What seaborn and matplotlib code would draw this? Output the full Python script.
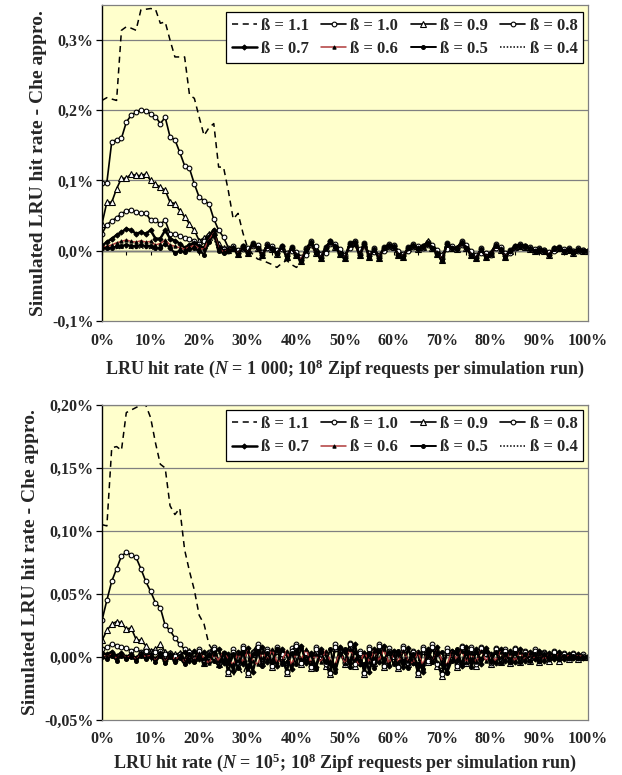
import numpy as np
import pandas as pd
import seaborn as sns
import matplotlib
matplotlib.use("Agg")
import matplotlib.pyplot as plt
from matplotlib.ticker import FuncFormatter

# ---------------- data ----------------
# x: LRU hit rate in %
hit_rate = list(range(0, 101))
betas = ["1.1", "1.0", "0.9", "0.8", "0.7", "0.6", "0.5", "0.4"]

# Panel 1 (N = 1 000): simulated - Che approx., in thousandths of a percent
n1_b11 = [214, 218, 216, 214, 314, 319, 317, 314, 343, 344,
          345, 344, 324, 326, 300, 276, 276, 276, 222, 217,
          190, 164, 175, 181, 119, 119, 85, 45, 53, 25,
          3, -5, -12, -14, -17, -20, -24, -18, -14, -20,
          -24, -18, -6, 8, -4, -12, 2, 11, 4, -6,
          -11, 8, 13, -4, 9, -9, 3, -11, 5, 7,
          5, -7, -9, 3, 9, 2, 5, 10, 3, -5,
          -13, 9, 5, 2, 11, 3, -7, -11, 3, -7,
          -3, 7, 3, -9, 1, 5, 7, 5, 2, 1,
          1, 1, -5, 2, 3, 1, 1, -3, 1, 0, 0]
n1_b10 = [97, 97, 155, 158, 160, 183, 193, 197, 201, 199,
          195, 191, 181, 190, 162, 158, 140, 121, 117, 95,
          76, 71, 67, 45, 29, 19, 4, 6, -3, 7,
          -2, 11, 5, -5, 9, 4, -3, 7, -7, 5,
          -5, -13, 3, 13, -1, -9, 5, 14, 7, -3,
          -9, 11, 13, -5, 11, -7, 3, -9, 5, 9,
          7, -5, -7, 5, 9, 4, 7, 12, 5, -3,
          -11, 11, 5, 4, 13, 5, -5, -9, 3, -7,
          -3, 9, 3, -7, 1, 7, 9, 7, 4, 1,
          3, 1, -5, 4, 5, 1, 3, -1, 3, 1, 0]
n1_b09 = [38, 69, 69, 88, 103, 103, 109, 107, 107, 109,
          100, 95, 90, 86, 69, 67, 57, 48, 38, 29,
          14, 18, 24, 26, 10, 3, 1, 3, -5, 5,
          -4, 9, 3, -7, 7, 2, -5, 5, -9, 3,
          -7, -15, 1, 11, -3, -11, 3, 12, 5, -5,
          -11, 9, 11, -7, 9, -9, 1, -11, 3, 7,
          5, -7, -9, 3, 7, 2, 5, 14, 3, -5,
          -13, 9, 3, 2, 11, 3, -7, -11, 1, -9,
          -5, 7, 1, -9, -1, 5, 7, 5, 2, -1,
          1, -1, -7, 2, 3, -1, 1, -3, 1, -1, 0]
n1_b08 = [24, 37, 42, 47, 52, 57, 58, 55, 53, 54,
          43, 43, 38, 43, 24, 23, 21, 18, 16, 14,
          10, 14, 22, 26, 4, 2, -1, 4, 1, 2,
          4, 6, 8, -2, 3, 7, 1, 2, -4, 0,
          -2, -9, -6, 8, 6, -5, -3, 9, 10, 2,
          -6, 4, 9, 2, 6, -3, -2, -6, 0, 5,
          8, 0, -5, 0, 5, 6, 4, 8, 8, 1,
          -7, 2, 7, 4, 8, 8, -1, -6, -3, -3,
          -6, 3, 5, -3, -4, 3, 7, 7, 5, 2,
          1, 1, -2, -1, 4, 2, 1, 0, 0, 1, 0]
n1_b07 = [7, 12, 17, 22, 26, 31, 29, 24, 26, 24,
          29, 17, 17, 29, 17, 14, 10, 4, 8, 11,
          6, 4, 20, 30, 5, 0, 2, 4, -4, 6,
          -3, 10, 4, -6, 8, 3, -4, 6, -8, 4,
          -6, -14, 2, 12, -2, -10, 4, 13, 6, -4,
          -10, 10, 12, -6, 10, -8, 2, -10, 4, 8,
          6, -6, -8, 4, 8, 3, 6, 11, 4, -4,
          -12, 10, 4, 3, 12, 4, -6, -10, 2, -8,
          -4, 8, 2, -8, 0, 6, 8, 6, 3, 0,
          2, 0, -6, 3, 4, 0, 2, -2, 2, 0, 0]
n1_b06 = [4, 6, 8, 11, 13, 15, 13, 12, 14, 12,
          13, 8, 10, 15, 8, 6, 4, 2, 5, 7,
          3, 2, 15, 25, 3, -2, 1, 3, -5, 5,
          -4, 8, 3, -7, 6, 2, -5, 5, -9, 3,
          -7, -12, 1, 10, -3, -11, 3, 11, 5, -5,
          -11, 8, 10, -7, 8, -9, 1, -11, 3, 6,
          5, -7, -9, 3, 6, 2, 5, 9, 3, -5,
          -13, 8, 3, 2, 10, 3, -7, -11, 1, -9,
          -5, 6, 1, -9, -1, 5, 6, 5, 2, -1,
          1, -1, -6, 2, 3, -1, 1, -3, 1, -1, 0]
n1_b05 = [3, 4, 4, 6, 7, 8, 7, 6, 8, 6,
          7, 3, 4, 10, 4, -4, 0, -2, 2, 4,
          0, -6, 12, 22, 0, -4, 0, 2, -6, 4,
          -5, 9, 3, -8, 7, 2, -5, 5, -10, 3,
          -8, -16, 1, 11, -3, -12, 3, 12, 5, -6,
          -12, 9, 11, -8, 9, -10, 1, -12, 3, 7,
          5, -8, -10, 3, 7, 2, 5, 10, 3, -6,
          -15, 9, 3, 2, 11, 3, -8, -12, 1, -10,
          -5, 7, 1, -10, -1, 5, 7, 5, 2, -1,
          1, -1, -7, 2, 3, -1, 1, -3, 1, -1, 0]
n1_b04 = [2, 2, 2, 3, 3, 4, 3, 3, 4, 3,
          3, 1, 2, 6, 2, -2, -1, -2, 1, 2,
          -1, -4, 8, 18, -1, -4, 1, 3, -4, 5,
          -3, 9, 4, -6, 7, 3, -4, 6, -8, 4,
          -6, -13, 2, 11, -2, -10, 4, 12, 6, -4,
          -10, 9, 11, -6, 9, -8, 2, -10, 4, 7,
          6, -6, -8, 4, 7, 3, 6, 10, 4, -4,
          -12, 9, 4, 3, 11, 4, -6, -10, 2, -8,
          -4, 7, 2, -8, 0, 6, 7, 6, 3, 0,
          2, 0, -6, 3, 4, 0, 2, -2, 2, 0, 0]

# Panel 2 (N = 10^5): simulated - Che approx., in thousandths of a percent
n2_b11 = [105, 104, 166, 167, 164, 194, 196, 198, 200, 200,
          190, 170, 153, 150, 120, 113, 118, 85, 68, 53,
          33, 26, 10, 4, -2, 4, -10, -15, -8, -14,
          -4, 5, 6, -3, 7, -6, 4, 3, -10, 6,
          8, -4, 5, -7, 4, 3, -5, -11, 7, 5,
          -4, 9, -5, 4, -11, 5, -3, 8, -6, 6,
          3, -7, 6, -4, 5, -11, 5, -2, 7, -5,
          -12, 6, 2, -6, 7, -3, 5, -5, 6, 3,
          -4, 5, -2, 4, -3, 5, -2, 3, -1, 4,
          -2, 2, -1, 3, -1, 1, 0, 1, 0, 1, 0]
n2_b10 = [29, 45, 60, 70, 80, 83, 81, 79, 70, 60,
          52, 43, 39, 25, 21, 15, 10, 6, 3, -2,
          6, -3, 4, 8, -4, 3, -11, 6, -5, 9,
          -12, 4, 10, -3, 6, -6, 8, 3, -11, 7,
          10, -4, 4, -7, 8, 3, -5, -12, 10, 5,
          -4, 11, -5, 5, -12, 8, -3, 10, -6, 7,
          3, -7, 9, -4, 5, -12, 8, -2, 10, -5,
          -13, 7, 4, -6, 9, -3, 8, -5, 8, 3,
          -4, 7, -2, 6, -3, 7, -2, 5, -1, 6,
          -2, 4, -1, 5, -1, 3, 0, 3, 0, 2, 0]
n2_b09 = [13, 21, 26, 28, 27, 22, 23, 14, 13, 9,
          5, 6, 10, 4, 3, 2, 3, -2, 5, -1,
          4, -5, 2, 5, -6, 1, -13, 3, -7, 6,
          -14, 2, 7, -5, 4, -8, 5, 1, -13, 4,
          8, -6, 2, -9, 5, 1, -7, -14, 7, 3,
          -6, 9, -7, 2, -14, 5, -5, 8, -8, 4,
          1, -9, 6, -6, 3, -14, 5, -4, 7, -7,
          -15, 4, 2, -8, 7, -5, 5, -7, 6, 1,
          -6, 5, -4, 4, -5, 5, -4, 3, -3, 4,
          -4, 2, -3, 3, -3, 1, -2, 1, -2, 0, 0]
n2_b08 = [6, 8, 10, 9, 8, 7, 5, 6, 4, 5,
          3, 4, 5, 2, 3, 1, 2, -3, 4, -2,
          5, -4, 3, 6, -5, 2, -12, 4, -6, 7,
          -13, 3, 8, -4, 5, -7, 6, 2, -12, 5,
          9, -5, 3, -8, 6, 2, -6, -13, 8, 4,
          -5, 10, -6, 3, -13, 6, -4, 9, -7, 5,
          2, -8, 7, -5, 4, -13, 6, -3, 8, -6,
          -14, 5, 3, -7, 8, -4, 6, -6, 7, 2,
          -5, 6, -3, 5, -4, 6, -3, 4, -2, 5,
          -3, 3, -2, 4, -2, 2, -1, 2, -1, 1, 0]
n2_b07 = [3, 2, 4, 1, 3, 0, 2, -1, 3, 1,
          2, -2, 3, -3, 2, -3, 1, 4, -3, 5,
          -2, 4, -4, 3, 6, -5, 2, -11, 4, -6,
          7, -12, 3, 8, -4, 5, -7, 6, 2, -10,
          5, 9, -5, 3, -8, 6, 2, -6, -10, 8,
          4, -5, 10, -6, 3, -12, 6, -4, 9, -7,
          5, 2, -8, 7, -5, 4, -12, 6, -3, 8,
          -6, -12, 5, 3, -7, 8, -4, 6, -6, 7,
          2, -5, 6, -3, 5, -4, 6, -3, 4, -2,
          5, -3, 3, -2, 4, -2, 2, -1, 2, -1, 0]
n2_b06 = [1, 0, 2, -1, 2, -1, 1, -2, 2, 0,
          1, -3, 2, -4, 1, -2, 0, -4, 2, -3,
          3, -1, -5, 2, -3, 4, -2, -6, 3, -4,
          5, -3, -6, 4, -2, 6, -4, -3, 5, -6,
          3, -2, 6, -5, 2, -4, 5, -3, -6, 4,
          -5, 6, -2, -6, 4, -4, 5, -3, 6, -5,
          2, -4, 5, -3, -5, 4, -6, 3, -4, 5,
          -3, -6, 4, -2, 5, -4, 3, -4, 5, -3,
          2, -3, 4, -2, 3, -3, 4, -2, 3, -1,
          2, -2, 2, -1, 2, -1, 1, -1, 1, 0, 0]
n2_b05 = [0, -2, 1, -3, 1, -2, 0, -3, 1, -2,
          0, -4, 1, -5, 0, -4, -1, -6, 2, -4,
          1, -6, 2, -3, -7, 3, -5, 2, -9, 4,
          -8, 2, 5, -7, 3, -4, 6, -6, -4, 3,
          -6, 7, -3, 2, -10, 4, -4, 6, -12, 2,
          6, -8, 4, -3, -6, 2, -9, 5, -2, 4,
          -6, 5, -3, -9, 2, -6, -10, 3, -4, 2,
          4, -13, -3, 6, -5, 3, -8, 4, -2, 5,
          -4, 4, -5, 2, -4, 3, -4, 2, -3, 2,
          -3, 2, -2, 1, -2, 1, -1, 1, -1, 0, 0]
n2_b04 = [1, 0, 2, 0, 1, -1, 1, 0, 2, -1,
          1, -1, 2, -2, 1, -1, 2, -3, 1, -2,
          2, -3, 1, -4, 3, -2, -7, 1, -5, 2,
          -9, 1, 4, -5, 2, -3, 3, -1, -8, 2,
          5, -3, 1, -5, 3, 0, -4, -9, 5, 2,
          -3, 6, -4, 1, -9, 4, -2, 6, -4, 3,
          1, -5, 4, -3, 2, -9, 3, -1, 5, -4,
          -10, 3, 1, -4, 5, -2, 4, -3, 4, 1,
          -3, 4, -1, 3, -2, 4, -1, 2, 0, 3,
          -1, 2, 0, 2, 0, 1, 0, 1, 0, 1, 0]

panel1 = [n1_b11, n1_b10, n1_b09, n1_b08, n1_b07, n1_b06, n1_b05, n1_b04]
panel2 = [n2_b11, n2_b10, n2_b09, n2_b08, n2_b07, n2_b06, n2_b05, n2_b04]

x_ticks = list(range(0, 101, 10))
y1_ticks = [-0.1, 0.0, 0.1, 0.2, 0.3]
y2_ticks = [-0.05, 0.0, 0.05, 0.10, 0.15, 0.20]
xlabel1 = r"LRU hit rate ($\mathit{N}$ = 1 000; $\mathrm{10^{8}}$ Zipf requests per simulation run)"
xlabel2 = r"LRU hit rate ($\mathit{N}$ = $\mathrm{10^{5}}$; $\mathrm{10^{8}}$ Zipf requests per simulation run)"
ylabel = "Simulated LRU hit rate - Che appro."


def long_frame(series_list):
    rows = []
    for b, vals in zip(betas, series_list):
        for xv, v in zip(hit_rate, vals):
            rows.append({"hit": xv, "diff": v / 1000.0, "beta": b})
    return pd.DataFrame(rows)


df1 = long_frame(panel1)
df2 = long_frame(panel2)

# ---------------- style ----------------
sns.set_style("white")
plt.rcParams["font.family"] = ["Liberation Serif", "DejaVu Serif"]
plt.rcParams["font.weight"] = "bold"
plt.rcParams["mathtext.fontset"] = "custom"
plt.rcParams["mathtext.rm"] = "Liberation Serif:bold"
plt.rcParams["mathtext.it"] = "Liberation Serif:italic:bold"
plt.rcParams["mathtext.bf"] = "Liberation Serif:bold"

styles = {
    "1.1": dict(color="black", linestyle=(0, (4, 3)), lw=1.1),
    "1.0": dict(color="black", linestyle="-", marker="o", mfc="white", mec="black", ms=3.4, mew=0.8, lw=1.2),
    "0.9": dict(color="black", linestyle="-", marker="^", mfc="white", mec="black", ms=3.7, mew=0.8, lw=1.2),
    "0.8": dict(color="black", linestyle="-", marker="o", mfc="white", mec="black", ms=3.4, mew=0.8, lw=1.2),
    "0.7": dict(color="black", linestyle="-", marker="D", mfc="black", mec="black", ms=2.6, lw=1.8),
    "0.6": dict(color="#B03A3A", linestyle="-", marker="^", mfc="black", mec="black", ms=2.4, lw=1.1),
    "0.5": dict(color="black", linestyle="-", marker="o", mfc="black", mec="black", ms=2.8, lw=1.4),
    "0.4": dict(color="black", linestyle=(0, (1, 1.2)), lw=1.1),
}

fig = plt.figure(figsize=(6.22, 7.75), dpi=100)
ax1 = fig.add_axes([0.164, 0.5862, 0.7813, 0.4073])
ax2 = fig.add_axes([0.164, 0.0712, 0.7813, 0.4062])

FS = 11.5


def draw(ax, df, ylim, yticks, fmt, xlabel, zero_frac, leg_top, xpad, lpad):
    ax.set_facecolor("#FFFFCC")
    for b in betas:
        sub = df[df["beta"] == b]
        sns.lineplot(data=sub, x="hit", y="diff", ax=ax, estimator=None, sort=False,
                     label=f"ß = {b}", **styles[b])
    ax.set_xlim(0, 100)
    ax.set_ylim(*ylim)
    ax.set_yticks(yticks)
    ax.set_xticks(x_ticks)
    ax.xaxis.set_major_formatter(FuncFormatter(lambda v, p: f"{v:.0f}%"))
    ax.yaxis.set_major_formatter(FuncFormatter(fmt))
    ax.grid(False)
    for yv in yticks[1:]:
        ax.axhline(yv, color="#808080", lw=0.9, zorder=0.5)
    for s in ["top", "right", "bottom"]:
        ax.spines[s].set_color("#808080")
        ax.spines[s].set_linewidth(0.9)
    ax.spines["left"].set_color("black")
    ax.spines["left"].set_linewidth(1.0)
    ax.tick_params(axis="x", length=0, pad=xpad, labelsize=FS)
    ax.tick_params(axis="y", length=4, width=0.9, direction="out", left=True, color="black",
                   pad=2, labelsize=FS)
    for t in ax.get_xticklabels() + ax.get_yticklabels():
        t.set_fontweight("bold")
    ax.set_xlabel(xlabel, fontsize=13, fontweight="bold", labelpad=lpad)
    ax.set_ylabel(ylabel, fontsize=14, fontweight="bold", labelpad=4)
    # zero line axis with tick marks
    sec = ax.secondary_xaxis(zero_frac)
    sec.set_xticks(list(range(0, 101, 5)))
    sec.tick_params(axis="x", length=3, width=0.8, direction="out", labelbottom=False,
                    labeltop=False, color="black")
    for s in sec.spines.values():
        s.set_color("black")
        s.set_linewidth(1.0)
    # legend
    h, l = ax.get_legend_handles_labels()
    order = [0, 4, 1, 5, 2, 6, 3, 7]
    leg = ax.legend([h[i] for i in order], [l[i] for i in order], ncol=4,
                    loc="upper right", bbox_to_anchor=(0.99, leg_top), borderaxespad=0,
                    frameon=True, fancybox=False, framealpha=1, facecolor="white",
                    edgecolor="black", handlelength=1.5, handletextpad=0.25,
                    columnspacing=0.75, labelspacing=0.45, borderpad=0.35,
                    prop={"family": "Liberation Serif", "weight": "bold", "size": 12})
    leg.get_frame().set_linewidth(0.9)


draw(ax1, df1, (-0.1, 0.35), y1_ticks, lambda v, p: f"{v:.1f}%".replace(".", ","),
     xlabel1, 0.1 / 0.45, 0.978, 9, 6)
draw(ax2, df2, (-0.05, 0.20), y2_ticks, lambda v, p: f"{v:.2f}%".replace(".", ","),
     xlabel2, 0.05 / 0.25, 0.984, 8, 3)

fig.savefig("out.png", dpi=100, facecolor="white")
